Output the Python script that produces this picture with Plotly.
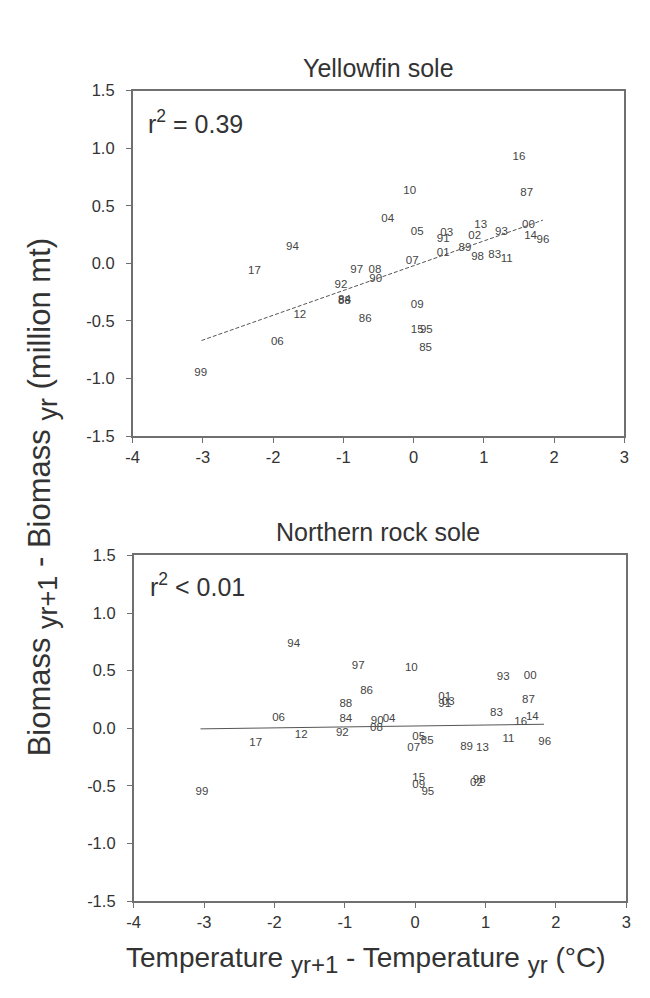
import plotly.graph_objects as go

years = ["83","84","85","86","87","88","89","90","91","92","93","94","95","96","97","98","99",
         "00","01","02","03","04","05","06","07","08","09","10","11","12","13","14","15","16","17"]
temp_change = [1.155,-0.985,0.17,-0.69,1.61,-0.985,0.73,-0.54,0.42,-1.035,1.25,-1.725,0.18,1.84,-0.81,0.91,-3.03,
               1.635,0.42,0.87,0.47,-0.37,0.05,-1.94,-0.02,-0.55,0.05,-0.055,1.325,-1.62,0.955,1.665,0.05,1.50,-2.265]
yellowfin_change = [0.07,-0.32,-0.74,-0.48,0.61,-0.33,0.13,-0.14,0.21,-0.19,0.27,0.14,-0.58,0.20,-0.06,0.05,-0.95,
                    0.33,0.09,0.24,0.26,0.38,0.27,-0.68,0.02,-0.06,-0.36,0.63,0.04,-0.45,0.33,0.24,-0.58,0.92,-0.07]
rocksole_change = [0.13,0.08,-0.11,0.32,0.24,0.21,-0.16,0.06,0.21,-0.04,0.44,0.73,-0.55,-0.12,0.54,-0.45,-0.55,
                   0.45,0.27,-0.48,0.23,0.08,-0.08,0.09,-0.17,0.00,-0.49,0.52,-0.09,-0.06,-0.17,0.10,-0.43,0.05,-0.13]

fit_top_x = [-3.02, 1.84]
fit_top_y = [-0.67, 0.375]
fit_bot_x = [-3.05, 1.83]
fit_bot_y = [-0.005, 0.035]

panel_titles = ["Yellowfin sole", "Northern rock sole"]
r2_labels = ["r<sup>2</sup> = 0.39", "r<sup>2</sup> &lt; 0.01"]
x_ticks = [-4, -3, -2, -1, 0, 1, 2, 3]
x_ticktext = ["-4", "-3", "-2", "-1", "0", "1", "2", "3"]
y_ticks = [-1.5, -1.0, -0.5, 0.0, 0.5, 1.0, 1.5]
y_ticktext = ["-1.5", "-1.0", "-0.5", "0.0", "0.5", "1.0", "1.5"]

FONT = "Liberation Sans, Arial, sans-serif"
W, H = 650, 998
txtc = "#333333"

fig = go.Figure()
fig.add_trace(go.Scatter(x=temp_change, y=yellowfin_change, text=years, mode="text",
                         textfont=dict(size=11.5, color="#444444", family=FONT),
                         xaxis="x", yaxis="y", showlegend=False))
fig.add_trace(go.Scatter(x=fit_top_x, y=fit_top_y, mode="lines",
                         line=dict(color="#555555", width=1, dash="4px,2px"),
                         xaxis="x", yaxis="y", showlegend=False))
fig.add_trace(go.Scatter(x=temp_change, y=rocksole_change, text=years, mode="text",
                         textfont=dict(size=11.5, color="#444444", family=FONT),
                         xaxis="x2", yaxis="y2", showlegend=False))
fig.add_trace(go.Scatter(x=fit_bot_x, y=fit_bot_y, mode="lines",
                         line=dict(color="#555555", width=1),
                         xaxis="x2", yaxis="y2", showlegend=False))

def xdom(l, r):
    return [l / W, r / W]

def ydom(top, bottom):
    return [1 - bottom / H, 1 - top / H]

axis_common = dict(showgrid=False, zeroline=False, showline=True, linecolor="#707070",
                   linewidth=1.5, mirror=True, ticks="outside", ticklen=5, tickcolor="#707070",
                   tickfont=dict(size=16.5, color=txtc, family=FONT))

fig.update_layout(
    width=W, height=H,
    margin=dict(l=0, r=0, t=0, b=0),
    paper_bgcolor="white", plot_bgcolor="white",
    xaxis=dict(domain=xdom(128, 629), range=[-4, 3], tickvals=x_ticks, ticktext=x_ticktext,
               anchor="y", ticklabelstandoff=0, **axis_common),
    yaxis=dict(domain=ydom(83, 435), range=[-1.5, 1.5], tickvals=y_ticks, ticktext=y_ticktext,
               anchor="x", ticklabelstandoff=8, **axis_common),
    xaxis2=dict(domain=xdom(129, 631), range=[-4, 3], tickvals=x_ticks, ticktext=x_ticktext,
                anchor="y2", ticklabelstandoff=0, **axis_common),
    yaxis2=dict(domain=ydom(556.5, 908.5), range=[-1.5, 1.5], tickvals=y_ticks, ticktext=y_ticktext,
                anchor="x2", ticklabelstandoff=8, **axis_common),
)

def sub(s, px):
    return f'<sub><span style="font-size:{px}px">{s}</span></sub>'

ann = []
ann.append(dict(text=panel_titles[0], x=378.5 / W, y=1 - 60 / H, xref="paper", yref="paper",
                showarrow=False, font=dict(size=25, color=txtc, family=FONT), xanchor="center", yanchor="middle"))
ann.append(dict(text=panel_titles[1], x=378 / W, y=1 - 533 / H, xref="paper", yref="paper",
                showarrow=False, font=dict(size=25, color=txtc, family=FONT), xanchor="center", yanchor="middle"))
ann.append(dict(text=r2_labels[0], x=142 / W, y=1 - 115 / H, xref="paper", yref="paper",
                showarrow=False, font=dict(size=25, color=txtc, family=FONT), xanchor="left", yanchor="middle"))
ann.append(dict(text=r2_labels[1], x=144 / W, y=1 - 587 / H, xref="paper", yref="paper",
                showarrow=False, font=dict(size=25, color=txtc, family=FONT), xanchor="left", yanchor="middle"))
ann.append(dict(text="Biomass " + sub("yr+1", 27) + " - Biomass " + sub("yr", 27) + " (million mt)",
                x=36 / W, y=1 - 497 / H, xref="paper", yref="paper", textangle=-90,
                showarrow=False, font=dict(size=31, color=txtc, family=FONT), xanchor="center", yanchor="middle"))
ann.append(dict(text="Temperature " + sub("yr+1", 24) + " - Temperature " + sub("yr", 24) + " (°C)",
                x=366 / W, y=1 - 968 / H, xref="paper", yref="paper",
                showarrow=False, font=dict(size=28, color=txtc, family=FONT), xanchor="center", yanchor="middle"))
fig.update_layout(annotations=ann)

fig.write_html("out.html")
